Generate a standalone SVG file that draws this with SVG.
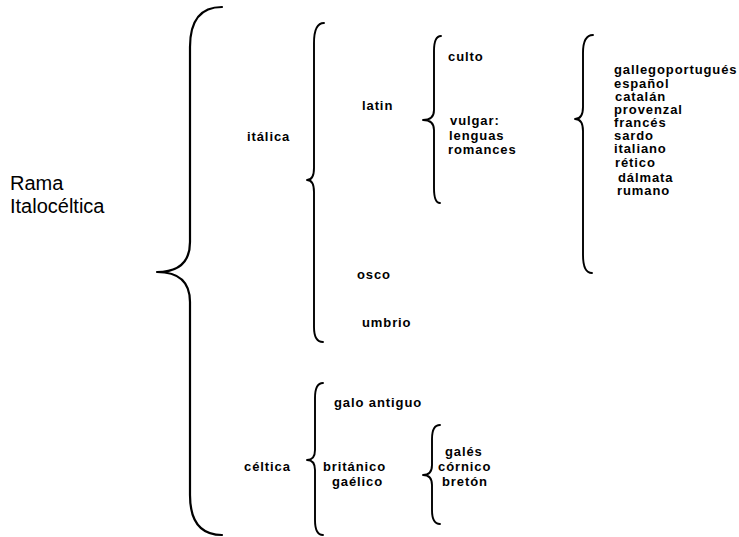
<svg xmlns="http://www.w3.org/2000/svg" width="739" height="537" viewBox="0 0 739 537">
  <style>
    .brace { fill: none; stroke: #000; stroke-width: 1.9; stroke-linecap: round; stroke-linejoin: round; }
    .big { stroke-width: 2.2; }
    .lbl { font-family: "Liberation Sans", Arial, sans-serif; font-weight: bold; font-size: 13px; letter-spacing: 0.9px; fill: #000; }
    .root { font-family: "Liberation Sans", Arial, sans-serif; font-size: 20px; fill: #000; }
  </style>
  <rect width="739" height="537" fill="#fff"/>

  <!-- braces linking each branch to its members -->
  <g id="connectors">
    <path class="brace big" d="M222 7 Q190 7 190 47 L190 242 Q190 272 157 272 Q190 272 190 302 L190 495 Q190 535 222 535"/>
    <path class="brace" d="M324 23 Q314 23 314 43 L314 168 Q314 180 307 180 Q314 180 314 192 L314 327 Q314 342 323 342"/>
    <path class="brace" d="M441 36 Q434 36 434 51 L434 110 Q434 120 423 120 Q434 120 434 130 L434 188 Q434 203 440 203"/>
    <path class="brace" d="M593 35 Q583 35 583 53 L583 107 Q583 119 575 119 Q583 119 583 131 L583 255 Q583 273 592 273"/>
    <path class="brace" d="M323 383 Q315 383 315 398 L315 450 Q315 460 307 460 Q315 460 315 470 L315 520 Q315 535 323 535"/>
    <path class="brace" d="M440 425 Q432 425 432 439 L432 465 Q432 475 423 475 Q432 475 432 485 L432 510 Q432 524 440 524"/>
  </g>

  <g id="rama">
    <text class="root" x="10" y="190">Rama</text>
    <text class="root" x="10" y="213">Italocéltica</text>
  </g>

  <g id="italica"><text class="lbl" x="247" y="141">itálica</text></g>
  <g id="latin"><text class="lbl" x="362" y="110">latin</text></g>
  <g id="culto"><text class="lbl" x="448" y="61">culto</text></g>
  <g id="vulgar">
    <text class="lbl" x="450" y="125">vulgar:</text>
    <text class="lbl" x="449" y="140">lenguas</text>
    <text class="lbl" x="448" y="154">romances</text>
  </g>
  <g id="romances">
    <text class="lbl" x="614" y="74">gallegoportugués</text>
    <text class="lbl" x="614" y="88">español</text>
    <text class="lbl" x="615" y="101">catalán</text>
    <text class="lbl" x="614" y="114">provenzal</text>
    <text class="lbl" x="614" y="127">francés</text>
    <text class="lbl" x="614" y="140">sardo</text>
    <text class="lbl" x="614" y="153">italiano</text>
    <text class="lbl" x="615" y="167">rético</text>
    <text class="lbl" x="618" y="182">dálmata</text>
    <text class="lbl" x="617" y="195">rumano</text>
  </g>
  <g id="osco"><text class="lbl" x="357" y="279">osco</text></g>
  <g id="umbrio"><text class="lbl" x="362" y="327">umbrio</text></g>

  <g id="celtica"><text class="lbl" x="244" y="471">céltica</text></g>
  <g id="galo-antiguo"><text class="lbl" x="334" y="407">galo antiguo</text></g>
  <g id="britanico">
    <text class="lbl" x="323" y="471">británico</text>
    <text class="lbl" x="332" y="486">gaélico</text>
  </g>
  <g id="britonicas">
    <text class="lbl" x="445" y="456">galés</text>
    <text class="lbl" x="438" y="471">córnico</text>
    <text class="lbl" x="442" y="486">bretón</text>
  </g>
</svg>
